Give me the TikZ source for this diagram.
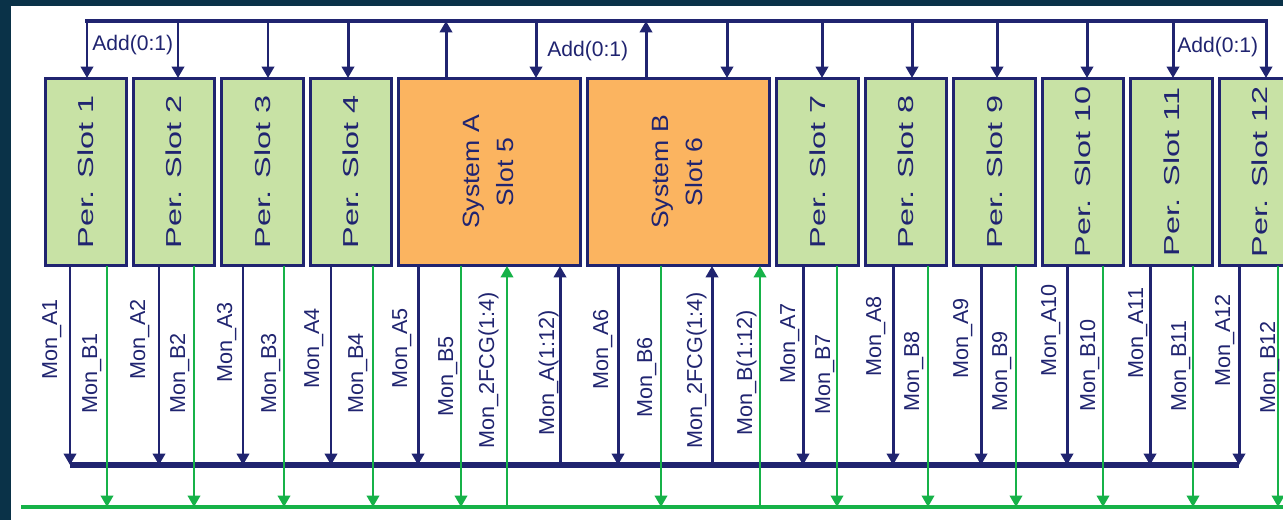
\documentclass[tikz,border=0pt]{standalone}
\usepackage{fontspec}
\setmainfont{Liberation Sans}
\usetikzlibrary{positioning,arrows.meta}
\definecolor{navy}{RGB}{32,36,112}
\definecolor{busgreen}{RGB}{22,178,72}
\definecolor{pergreen}{RGB}{200,226,165}
\definecolor{sysorange}{RGB}{251,180,96}
\definecolor{edgeblue}{RGB}{10,50,72}
\tikzset{
  perslot/.style={draw=navy,line width=1.7pt,fill=pergreen,minimum width=1.63cm,minimum height=3.76cm,
    outer sep=0pt,inner sep=0pt,text=navy,font=\fontsize{12.3}{14}\selectfont},
  sysslot/.style={perslot,fill=sysorange,minimum width=3.64cm,font=\fontsize{13.4}{19}\selectfont},
  nv/.style={navy,line width=1.7pt,-{Triangle[length=6.5pt,width=7pt]}},
  gr/.style={busgreen,line width=1.5pt,-{Triangle[length=6.5pt,width=7pt]}},
  mon/.style={rotate=90,anchor=base west,inner sep=0pt,text=navy,font=\fontsize{12.3}{14}\selectfont},
  addr/.style={anchor=base west,inner sep=0pt,text=navy,font=\fontsize{12}{14}\selectfont}
}
\newcommand{\per}[1]{\rotatebox{90}{\scalebox{1.5}[1]{Per. Slot #1}}}
\newcommand{\sys}[2]{\rotatebox{90}{\scalebox{1.13}[1]{\begin{tabular}{@{}c@{}}System #1\\Slot #2\end{tabular}}}}
\begin{document}
\begin{tikzpicture}[x=0.02cm,y=-0.02cm]
  \useasboundingbox (0,0) rectangle (1283,520);
  \clip (0,0) rectangle (1283,520);
  \fill[edgeblue] (0,0) rectangle (1283,520);
  \fill[white] (11,6) rectangle (1290,525);

  % slots
  \node[perslot] (s1) at (85.75,172) {\per{1}};
  \node[perslot,right=0.14cm of s1] (s2) {\per{2}};
  \node[perslot,right=0.14cm of s2] (s3) {\per{3}};
  \node[perslot,right=0.14cm of s3] (s4) {\per{4}};
  \node[sysslot,right=0.14cm of s4] (s5) {\sys{A}{5}};
  \node[sysslot,right=0.14cm of s5] (s6) {\sys{B}{6}};
  \node[perslot,right=0.14cm of s6] (s7) {\per{7}};
  \node[perslot,right=0.14cm of s7] (s8) {\per{8}};
  \node[perslot,right=0.14cm of s8] (s9) {\per{9}};
  \node[perslot,right=0.14cm of s9] (s10) {\per{10}};
  \node[perslot,right=0.14cm of s10] (s11) {\per{11}};
  \node[perslot,right=0.14cm of s11] (s12) {\per{12}};

  % address bus on top
  \coordinate (tl) at (87,21);
  \coordinate (tr) at (1266,21);
  \draw[navy,line width=2.8pt,line cap=rect] (tl) -- (tr);
  \draw[nv] (tl) -- (tl |- s1.north);
    \node[addr] (add1) at (92,51) {Add(0:1)};
  \draw[nv] (178,0 |- tl) -- (178,0 |- s2.north);
  \draw[nv] (268,0 |- tl) -- (268,0 |- s3.north);
  \draw[nv] (348,0 |- tl) -- (348,0 |- s4.north);
  \draw[nv] (446,0 |- s5.north) -- (446,0 |- tl);
  \draw[nv] (536,0 |- tl) -- (536,0 |- s5.north);
    \node[addr] (add2) at (547,57) {Add(0:1)};
  \draw[nv] (646,0 |- s6.north) -- (646,0 |- tl);
  \draw[nv] (727,0 |- tl) -- (727,0 |- s6.north);
  \draw[nv] (822,0 |- tl) -- (822,0 |- s7.north);
  \draw[nv] (912,0 |- tl) -- (912,0 |- s8.north);
  \draw[nv] (997,0 |- tl) -- (997,0 |- s9.north);
  \draw[nv] (1087,0 |- tl) -- (1087,0 |- s10.north);
  \draw[nv] (1173,0 |- tl) -- (1173,0 |- s11.north);
    \node[addr] (add3) at (1177,53) {Add(0:1)};
  \draw[nv] (tr) -- (tr |- s12.north);

  % monitor buses below
  \coordinate (bl) at (70,465);
  \coordinate (br) at (1239,465);
  \coordinate (gl) at (21,507);
  \coordinate (gr) at (1290,507);
  \draw[navy,line width=3pt] (bl) -- (br);
  \draw[busgreen,line width=2.8pt] (gl) -- (gr);

  \draw[nv] (70,0 |- s1.south) -- (bl);
  \draw[gr] (107,0 |- s1.south) -- (107,0 |- gl);
    \node[mon] (ma1) at (57,380) {Mon\_A1};
    \node[mon] (mb1) at (97,414) {Mon\_B1};
  \draw[nv] (159,0 |- s2.south) -- (159,0 |- bl);
  \draw[gr] (194,0 |- s2.south) -- (194,0 |- gl);
    \node[mon] (ma2) at (145,380) {Mon\_A2};
    \node[mon] (mb2) at (185,414) {Mon\_B2};
  \draw[nv] (243,0 |- s3.south) -- (243,0 |- bl);
  \draw[gr] (284,0 |- s3.south) -- (284,0 |- gl);
    \node[mon] (ma3) at (232,383) {Mon\_A3};
    \node[mon] (mb3) at (276,414) {Mon\_B3};
  \draw[nv] (331,0 |- s4.south) -- (331,0 |- bl);
  \draw[gr] (373,0 |- s4.south) -- (373,0 |- gl);
    \node[mon] (ma4) at (319,389) {Mon\_A4};
    \node[mon] (mb4) at (363,414) {Mon\_B4};

  \draw[nv] (418,0 |- s5.south) -- (418,0 |- bl);
  \draw[gr] (461,0 |- s5.south) -- (461,0 |- gl);
  \draw[gr] (507,0 |- gl) -- (507,0 |- s5.south);
  \draw[nv] (560,0 |- bl) -- (560,0 |- s5.south);
    \node[mon] (ma5) at (407,389) {Mon\_A5};
    \node[mon] (mb5) at (453,417) {Mon\_B5};
    \node[mon] (fcg5) at (494,449) {Mon\_2FCG(1:4)};
    \node[mon] (mall) at (554,436) {Mon\_A(1:12)};
  \draw[nv] (618,0 |- s6.south) -- (618,0 |- bl);
  \draw[gr] (661,0 |- s6.south) -- (661,0 |- gl);
  \draw[nv] (712,0 |- bl) -- (712,0 |- s6.south);
  \draw[gr] (760,0 |- gl) -- (760,0 |- s6.south);
    \node[mon] (ma6) at (608,390) {Mon\_A6};
    \node[mon] (mb6) at (652,418) {Mon\_B6};
    \node[mon] (fcg6) at (702,449) {Mon\_2FCG(1:4)};
    \node[mon] (mbll) at (752,436) {Mon\_B(1:12)};

  \draw[nv] (803,0 |- s7.south) -- (803,0 |- bl);
  \draw[gr] (837,0 |- s7.south) -- (837,0 |- gl);
    \node[mon] (ma7) at (795,384) {Mon\_A7};
    \node[mon] (mb7) at (830,415) {Mon\_B7};
  \draw[nv] (893,0 |- s8.south) -- (893,0 |- bl);
  \draw[gr] (928,0 |- s8.south) -- (928,0 |- gl);
    \node[mon] (ma8) at (881,377) {Mon\_A8};
    \node[mon] (mb8) at (919,412) {Mon\_B8};
  \draw[nv] (981,0 |- s9.south) -- (981,0 |- bl);
  \draw[gr] (1016,0 |- s9.south) -- (1016,0 |- gl);
    \node[mon] (ma9) at (968,379) {Mon\_A9};
    \node[mon] (mb9) at (1007,412) {Mon\_B9};
  \draw[nv] (1067,0 |- s10.south) -- (1067,0 |- bl);
  \draw[gr] (1103,0 |- s10.south) -- (1103,0 |- gl);
    \node[mon] (ma10) at (1056,377) {Mon\_A10};
    \node[mon] (mb10) at (1095,412) {Mon\_B10};
  \draw[nv] (1150,0 |- s11.south) -- (1150,0 |- bl);
  \draw[gr] (1193,0 |- s11.south) -- (1193,0 |- gl);
    \node[mon] (ma11) at (1143,379) {Mon\_A11};
    \node[mon] (mb11) at (1186,412) {Mon\_B11};
  \draw[nv] (1239,0 |- s12.south) -- (br);
  \draw[gr] (1278,0 |- s12.south) -- (1278,0 |- gl);
    \node[mon] (ma12) at (1230,387) {Mon\_A12};
    \node[mon] (mb12) at (1275,414) {Mon\_B12};
\end{tikzpicture}
\end{document}
